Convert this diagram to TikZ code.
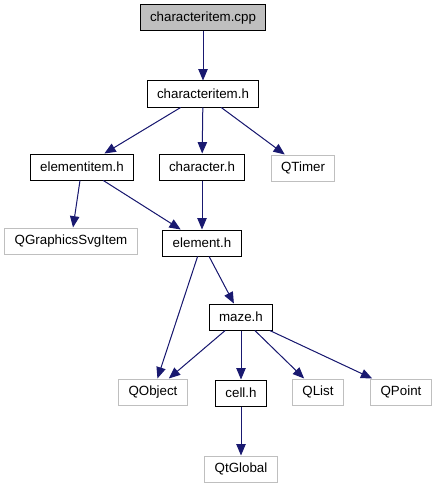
\documentclass[tikz,border=0pt]{standalone}
\usepackage{fontspec}
\setmainfont{Liberation Sans}
\usepackage{tikz}
\usepackage{xcolor}
\usetikzlibrary{arrows.meta,positioning}

\definecolor{edgeblue}{HTML}{191970}
\definecolor{boxgray}{HTML}{BFBFBF}

\begin{document}
\begin{tikzpicture}[
    x=0.75pt, y=-0.75pt,
    file/.style={draw=black, fill=white, line width=0.75pt, minimum height=19.5pt, inner xsep=7.5pt, inner ysep=2pt, font=\fontsize{10pt}{12pt}\selectfont},
    sys/.style={file, draw=boxgray},
    mainfile/.style={file, fill=boxgray},
    edge/.style={-{Triangle[length=8.5pt, width=7pt]}, draw=edgeblue, fill=edgeblue, line width=0.75pt}
]
    \useasboundingbox (0,0) rectangle (438,485);

    \node[mainfile] (cpp) at (203,18) {characteritem.cpp};
    \node[file, below=36.75pt of cpp] (itemh) {characteritem.h};
    \node[file] (elemitem) at (82,167) {elementitem.h};
    \node[file] (charh) at (202,167) {character.h};
    \node[sys] (qtimer) at (303,168) {QTimer};
    \node[sys] (qsvg) at (71,241) {QGraphicsSvgItem};
    \node[file, below=36.75pt of charh] (elemh) {element.h};
    \node[file] (maze) at (241,317) {maze.h};
    \node[sys] (qobject) at (153,392) {QObject};
    \node[file, below=36.75pt of maze] (cell) {cell.h};
    \node[sys] (qlist) at (318,392) {QList};
    \node[sys] (qpoint) at (401,392) {QPoint};
    \node[sys, below=36.75pt of cell] (qtglobal) {QtGlobal};

    \draw[edge] (cpp) -- (itemh);
    \draw[edge] (itemh) -- (elemitem);
    \draw[edge] (itemh) -- (charh);
    \draw[edge] (itemh) -- (qtimer);
    \draw[edge] (elemitem) -- (qsvg);
    \draw[edge] (elemitem) -- (elemh);
    \draw[edge] (charh) -- (elemh);
    \draw[edge] (elemh) -- (qobject);
    \draw[edge] (elemh) -- (maze);
    \draw[edge] (maze) -- (qobject);
    \draw[edge] (maze) -- (cell);
    \draw[edge] (maze) -- (qlist);
    \draw[edge] (maze) -- (qpoint);
    \draw[edge] (cell) -- (qtglobal);
\end{tikzpicture}
\end{document}
